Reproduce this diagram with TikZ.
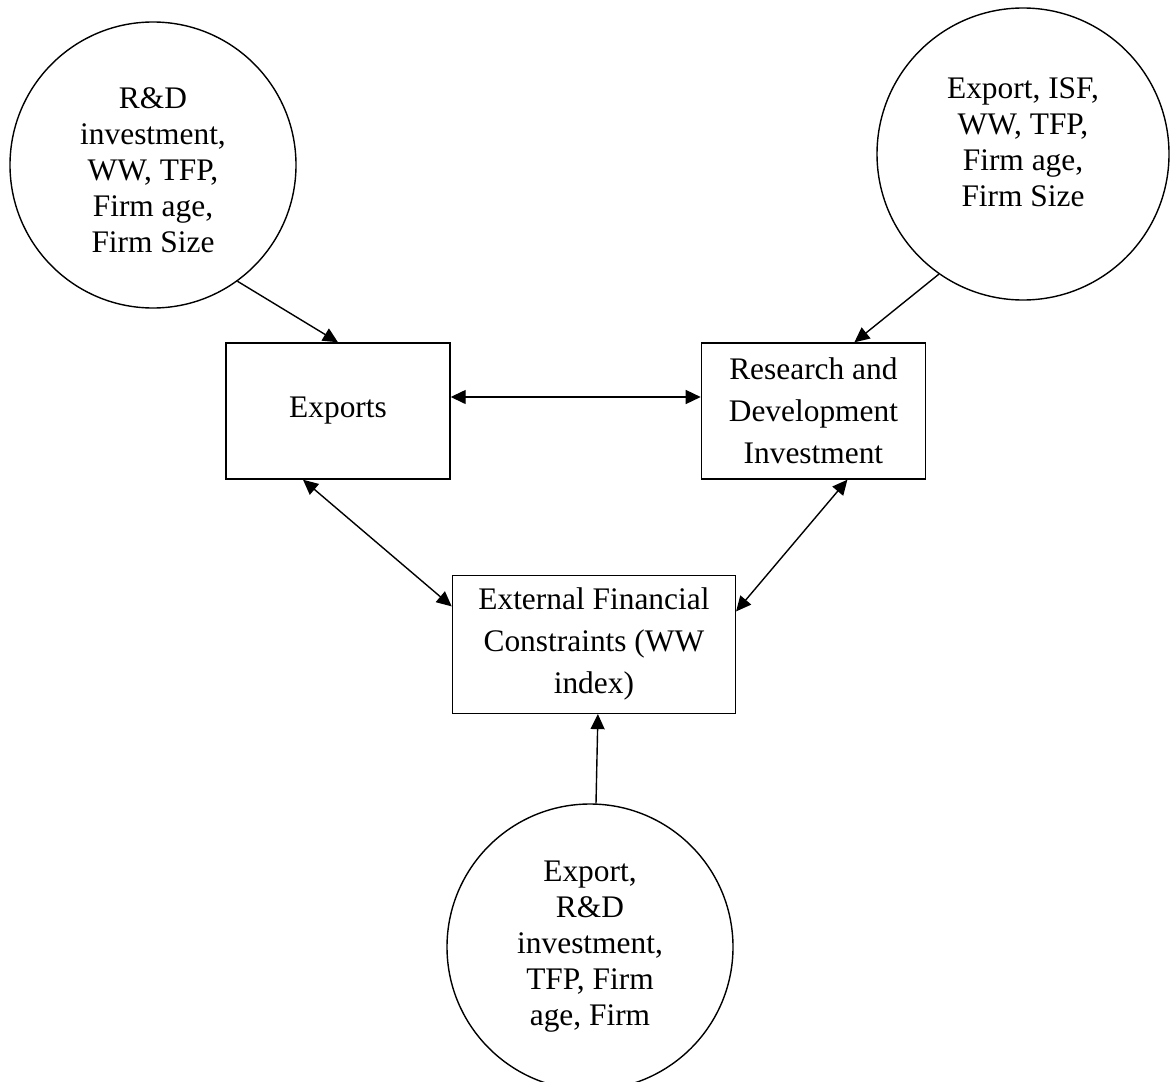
\documentclass[tikz,border=0pt]{standalone}
\usepackage{fontspec}
\setmainfont{Liberation Serif}
\usetikzlibrary{shapes,arrows.meta,positioning}

\begin{document}
\begin{tikzpicture}[
  x=0.5pt,
  y=-0.5pt,
  box/.style={
    rectangle,
    draw=black,
    line width=0.7pt,
    fill=white,
    text=black,
    minimum width=112pt,
    minimum height=68pt,
    font=\fontsize{15.7}{21}\selectfont,
    align=center,
    inner sep=0pt
  },
  bubble/.style={
    circle,
    draw=black,
    line width=0.7pt,
    minimum size=143pt,
    inner sep=0pt
  },
  bubbletext/.style={
    font=\fontsize{15.7}{18}\selectfont,
    align=center,
    inner sep=0pt
  },
  line/.style={
    line width=0.7pt,
    draw=black,
    -{Triangle[length=7.5pt,width=7pt]}
  },
  twoway/.style={
    line,
    {Triangle[length=7.5pt,width=7pt]}-{Triangle[length=7.5pt,width=7pt]}
  }
]

\useasboundingbox (0,0) rectangle (1170,1081);
\clip (0,0) rectangle (1170,1081);

% Exports box
\node[box] (exp) at (338,411) {Exports};

% R&D box, right of exports
\node[box, right=125pt of exp] (rd) {Research and\\Development\\Investment};

% Financial constraints box, below
\node[box, minimum width=141.5pt, minimum height=69pt, below right=47.5pt and 0.5pt of exp] (efc) {External Financial\\Constraints (WW\\index)};

% Left circle: drivers of exports
\node[bubble] (lc) at (153,165) {};
\node[bubbletext] (lctext) at ([yshift=-2.5pt]lc.center) {R\&D\\investment,\\WW, TFP,\\Firm age,\\Firm Size};
\draw[line] (lc.-54) -- (exp.north);

% Right circle: drivers of R&D
\node[bubble, minimum size=146pt] (rc) at (1023,154) {};
\node[bubbletext] (rctext) at ([yshift=6pt]rc.center) {Export, ISF,\\WW, TFP,\\Firm age,\\Firm Size};
\draw[line] (rc.-125) -- ([xshift=20.5pt]rd.north);

% Bottom circle: drivers of constraints
\node[bubble] (bc) at (590,947) {};
\node[bubbletext] (bctext) at (bc.center) {Export,\\R\&D\\investment,\\TFP, Firm\\age, Firm};
\draw[line] ([xshift=3pt]bc.north) -- ([xshift=2pt]efc.south);

% Two-way links between boxes
\draw[twoway] ([yshift=7pt]exp.east) -- ([yshift=7pt]rd.west);
\draw[twoway] ([xshift=-17.5pt]exp.south) -- ([yshift=19pt]efc.west);
\draw[twoway] ([xshift=17pt]rd.south) -- ([yshift=16.5pt]efc.east);

\end{tikzpicture}
\end{document}
